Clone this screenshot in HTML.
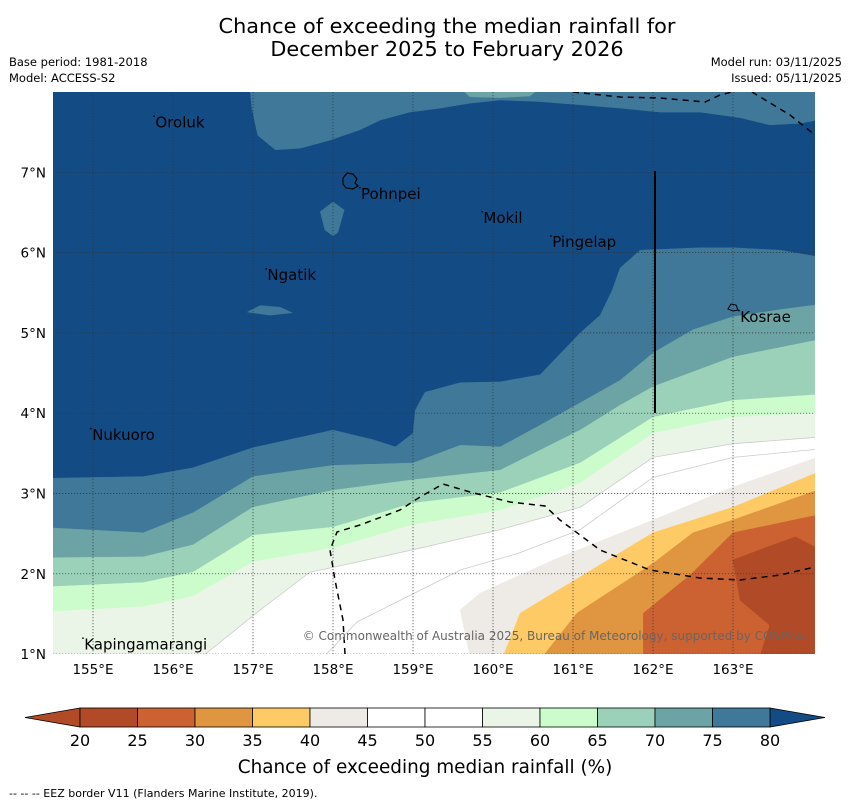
<!DOCTYPE html>
<html><head><meta charset="utf-8"><style>
body{margin:0;background:#fff;font-family:"Liberation Sans","DejaVu Sans",sans-serif}
svg{display:block}
</style></head><body>
<svg id="c" width="850" height="804" viewBox="0 0 850 804" xmlns="http://www.w3.org/2000/svg" font-family="DejaVu Sans, Liberation Sans, sans-serif">
<text x="447" y="33" font-size="20.8" text-anchor="middle">Chance of exceeding the median rainfall for</text>
<text x="447" y="56" font-size="20.8" text-anchor="middle">December 2025 to February 2026</text>
<text x="9" y="66" font-size="11.5">Base period: 1981-2018</text>
<text x="9" y="82" font-size="11.5">Model: ACCESS-S2</text>
<text x="842" y="66" font-size="11.5" text-anchor="end">Model run: 03/11/2025</text>
<text x="842" y="82" font-size="11.5" text-anchor="end">Issued: 05/11/2025</text>
<defs><clipPath id="mc"><rect x="53" y="92" width="762" height="562"/></clipPath></defs>
<g id="map" clip-path="url(#mc)">
<rect x="53" y="92" width="762" height="562" fill="#134c85"/>
</g>
<g id="cbar"></g>
<text x="425" y="773" font-size="18.4" text-anchor="middle">Chance of exceeding median rainfall (%)</text>
<text x="9" y="797" font-size="11">--  --  -- EEZ border V11 (Flanders Marine Institute, 2019).</text>
</svg>
<script>
const lonTicks=[155,156,157,158,159,160,161,162,163];
const latTicks=[1,2,3,4,5,6,7];
const levels=[20,25,30,35,40,45,50,55,60,65,70,75,80];
const levelColors=['#b04a27','#cc6232','#e09540','#fdca66','#eeebe6','#ffffff','#ffffff','#eaf5e8','#ccfccc','#9bd1b8','#6ca3a4','#3f7898'];
const b80=[[154.5,3.19],[155.63,3.21],[156.25,3.32],[157,3.57],[158,3.79],[158.5,3.67],[158.78,3.58],[159,3.75],[159.03,4.04],[159.15,4.26],[159.59,4.38],[160.09,4.39],[160.59,4.48],[161.09,5.0],[161.34,5.22],[161.49,5.53],[161.59,5.81],[161.84,6.03],[162.59,6.06],[163,6.06],[163.59,6.03],[164.05,5.95]];
const b75=[[154.5,2.57],[155.63,2.51],[156.25,2.76],[157,3.21],[158,3.35],[159,3.38],[159.59,3.6],[160.09,3.58],[160.59,3.85],[161.09,4.13],[161.59,4.41],[162,4.75],[162.5,5.04],[163,5.2],[163.59,5.29],[164.05,5.35]];
const b70=[[154.5,2.2],[155.63,2.21],[156.25,2.36],[157,2.83],[158,3.04],[159,3.17],[160.09,3.29],[161.09,3.79],[161.59,4.1],[162,4.33],[163,4.7],[164.05,4.91]];
const b65=[[154.5,1.84],[155.63,1.89],[156.25,2.02],[157,2.48],[158,2.58],[159,2.88],[160.09,3.01],[161.09,3.38],[162,3.95],[163,4.16],[164.05,4.23]];
const b60=[[154.5,1.53],[155.63,1.59],[156.25,1.72],[157,2.15],[158,2.32],[159,2.61],[160.09,2.79],[161.09,3.13],[162,3.75],[163,3.95],[164.05,4.0]];
const b55=[[156.38,0.98],[157.09,1.55],[157.71,2.02],[158,2.08],[159,2.3],[160.09,2.55],[161.09,2.83],[162,3.45],[163,3.62],[164.05,3.7]];
const b50=[[157.9,0.98],[158.3,1.4],[158.9,1.7],[159.6,2.05],[160.3,2.25],[161.09,2.55],[162,3.2],[163,3.45],[164.05,3.55]];
const b45=[[159.71,0.98],[159.59,1.55],[159.84,1.76],[160.75,2.17],[162,2.67],[163,3.08],[164.05,3.45]];
const b40=[[160.13,0.98],[160.34,1.51],[162,2.51],[163,2.83],[164.05,3.26]];
const b35=[[160.63,0.98],[161.05,1.51],[162,2.13],[162.5,2.51],[163,2.67],[164.05,3.04]];
const b30=[[161.88,0.98],[161.88,1.51],[162.46,1.98],[163,2.51],[164.05,2.73]];
const b25=[[163.34,0.98],[163.46,1.36],[163.09,1.67],[163,2.17],[163.34,2.3],[163.78,2.46],[164.05,2.32]];
const topPatch=[[156.96,8.05],[156.99,7.78],[157.06,7.46],[157.28,7.28],[157.59,7.3],[157.96,7.4],[158.34,7.53],[158.59,7.65],[158.96,7.75],[159.34,7.8],[159.71,7.86],[160.09,7.9],[160.59,7.88],[161.09,7.84],[161.59,7.8],[162.09,7.75],[162.59,7.75],[163.09,7.68],[163.46,7.59],[163.84,7.61],[164.05,7.65],[164.05,8.05]];
const topPatch2=[[159.59,8.05],[159.71,7.94],[160.09,7.93],[160.46,7.95],[160.59,8.05]];
const pohnpeiPatch=[[157.84,6.51],[158.0,6.63],[158.14,6.53],[158.06,6.25],[158.0,6.21],[157.9,6.28]];
const ngatikPatch=[[156.93,5.26],[157.09,5.34],[157.34,5.32],[157.49,5.25],[157.21,5.22]];
const places=['Oroluk','Pohnpei','Mokil','Pingelap','Ngatik','Kosrae','Nukuoro','Kapingamarangi'];
const placeLon=[155.78,158.35,159.88,160.74,157.18,163.09,154.99,154.89];
const placeLat=[7.62,6.73,6.43,6.13,5.72,5.2,3.73,1.12];

const X=lon=>53+(lon-154.5)*80;
const Y=lat=>92+(8-lat)*80.3;
const NS='http://www.w3.org/2000/svg';
function mk(t,a,p){const e=document.createElementNS(NS,t);for(const k in a)e.setAttribute(k,a[k]);p.appendChild(e);return e;}
const map=document.getElementById('map');
function pts(a){return a.map(p=>X(p[0]).toFixed(1)+','+Y(p[1]).toFixed(1)).join(' ');}
function poly(p,extra,col,name){
  const e=mk('polygon',{points:pts(p.concat(extra||[])),fill:col,stroke:col,'stroke-width':0.5},map);
  
  
  return e;
}
const BL=[154.4,0.9],BR=[164.1,0.9];
poly(topPatch,[],levelColors[11],'contour-75-80-top');
poly(topPatch2,[],levelColors[10],'contour-70-75-top');
poly(pohnpeiPatch,[],levelColors[11],'contour-patch-pohnpei');
poly(ngatikPatch,[],levelColors[11],'contour-patch-ngatik');
poly(b80,[BR,BL],levelColors[11],'contour-75-80');
poly(b75,[BR,BL],levelColors[10],'contour-70-75');
poly(b70,[BR,BL],levelColors[9],'contour-65-70');
poly(b65,[BR,BL],levelColors[8],'contour-60-65');
poly(b60,[BR,BL],levelColors[7],'contour-55-60');
poly(b55,[BR],levelColors[6],'contour-50-55');
let e=mk('polyline',{points:pts(b55),fill:'none',stroke:'#ccc','stroke-width':0.8},map);


e=mk('polyline',{points:pts(b50),fill:'none',stroke:'#ccc','stroke-width':0.8},map);


poly(b45,[BR],levelColors[4],'contour-40-45');
poly(b40,[BR],levelColors[3],'contour-35-40');
poly(b35,[BR],levelColors[2],'contour-30-35');
poly(b30,[BR],levelColors[1],'contour-25-30');
poly(b25,[BR],levelColors[0],'contour-20-25');
lonTicks.forEach(l=>{const g=mk('line',{x1:X(l),x2:X(l),y1:92,y2:654,stroke:'#333','stroke-width':0.7,'stroke-dasharray':'1.2,1.8'},map);

});
latTicks.forEach(l=>{const g=mk('line',{x1:53,x2:815,y1:Y(l),y2:Y(l),stroke:'#333','stroke-width':0.7,'stroke-dasharray':'1.2,1.8'},map);

});
const eez=[[345,654],[343,620],[335,580],[330,550],[337,532],[360,525],[400,510],[420,497],[443,484],[470,492],[510,502],[545,506],[560,520],[600,550],[650,570],[700,578],[740,580],[780,575],[815,567]];
e=mk('polyline',{points:eez.map(p=>p.join(',')).join(' '),fill:'none',stroke:'#000','stroke-width':1.5,'stroke-dasharray':'6,5'},map);


e=mk('polyline',{points:'573,92 620,97 660,98 705,102 720,95 740,90',fill:'none',stroke:'#000','stroke-width':1.5,'stroke-dasharray':'6,5'},map);


e=mk('polyline',{points:'752,92 790,115 815,135',fill:'none',stroke:'#000','stroke-width':1.5,'stroke-dasharray':'6,5'},map);


e=mk('line',{x1:655,x2:655,y1:171,y2:413,stroke:'#000','stroke-width':2},map);


e=mk('path',{d:'M343,178 l4,-5 l6,1 l4,5 l-2,4 l3,3 l-5,3 l-7,-1 l-3,-4 z',fill:'none',stroke:'#000','stroke-width':1.2},map);


e=mk('path',{d:'M728,309 l3,-5 l5,1 l2,5 l-5,1 z',fill:'none',stroke:'#000','stroke-width':1},map);


places.forEach((p,i)=>{
 const t=mk('text',{x:X(placeLon[i]),y:Y(placeLat[i])+5,'font-size':15,fill:'#000'},map);t.textContent=p;
 
 
 const d=mk('rect',{x:X(placeLon[i])-2,y:Y(placeLat[i])-7,width:1.5,height:1.5,fill:'#000'},map);
 
 
});
const c=document.getElementById('c');
e=mk('text',{x:808,y:640,'font-size':12,fill:'#666','text-anchor':'end'},c);
e.textContent='© Commonwealth of Australia 2025, Bureau of Meteorology, supported by COSPPac';


lonTicks.forEach(l=>{const t=mk('text',{x:X(l),y:674,'font-size':13.5,'text-anchor':'middle'},c);t.textContent=l+'°E';

});
latTicks.forEach(l=>{const t=mk('text',{x:46,y:Y(l)+5,'font-size':13.5,'text-anchor':'end'},c);t.textContent=l+'°N';

});
const cb=document.getElementById('cbar');
const CX=v=>80+(v-20)*11.5, cy0=708, cy1=727;
e=mk('polygon',{points:`${CX(20)},${cy0} 25,${(cy0+cy1)/2} ${CX(20)},${cy1}`,fill:levelColors[0],stroke:'#000','stroke-width':0.8},cb);


e=mk('polygon',{points:`${CX(80)},${cy0} 825,${(cy0+cy1)/2} ${CX(80)},${cy1}`,fill:'#134c85',stroke:'#000','stroke-width':0.8},cb);


for(let i=0;i<levels.length-1;i++){
 const r=mk('rect',{x:CX(levels[i]),y:cy0,width:CX(levels[i+1])-CX(levels[i]),height:cy1-cy0,fill:levelColors[i],stroke:'#000','stroke-width':0.8},cb);
 
 
}
levels.forEach(v=>{const t=mk('text',{x:CX(v),y:746,'font-size':16,'text-anchor':'middle'},cb);t.textContent=v;

});
</script>
</body></html>
